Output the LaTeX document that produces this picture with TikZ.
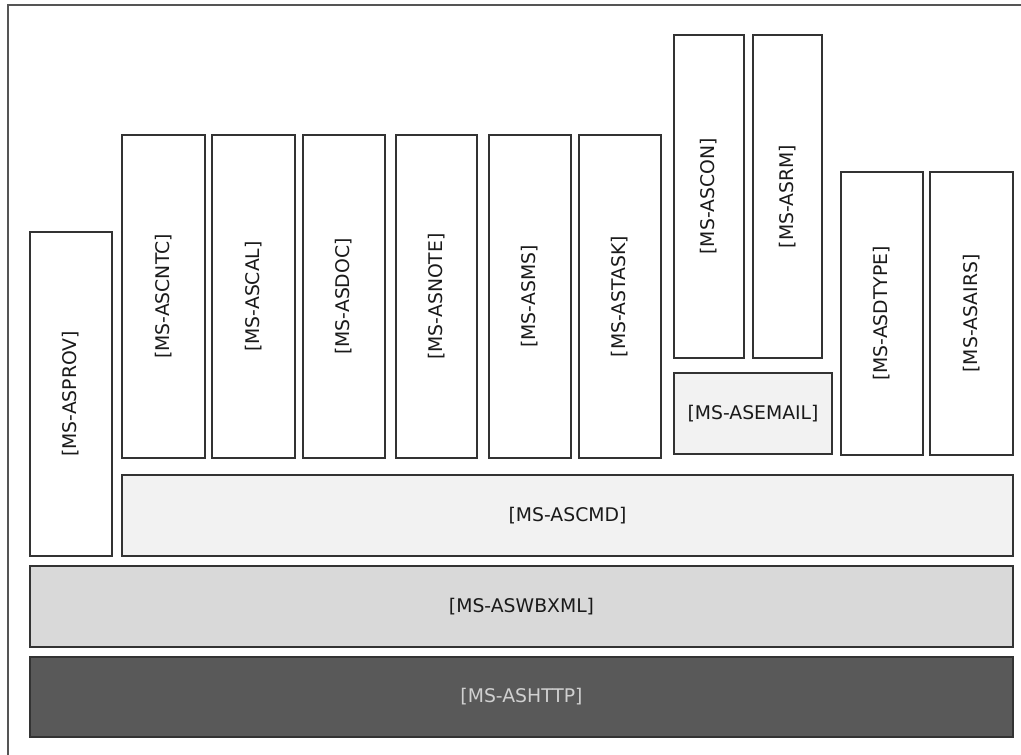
\documentclass[tikz,border=0pt]{standalone}
\usepackage{fontspec}
\setmainfont{DejaVu Sans}
\definecolor{frameC}{HTML}{555555}
\definecolor{edgeC}{HTML}{333333}
\definecolor{lightF}{HTML}{F2F2F2}
\definecolor{midF}{HTML}{D9D9D9}
\definecolor{darkF}{HTML}{595959}
\definecolor{txtC}{HTML}{1A1A1A}
\definecolor{lightT}{HTML}{D0D0D0}
\tikzset{
  base/.style={draw=edgeC, line width=1.6pt, inner sep=0pt, outer sep=0pt,
    font=\fontsize{18.8}{21}\selectfont, text=txtC},
  wbox/.style={base, fill=white},
  lbox/.style={base, fill=lightF},
  mbox/.style={base, fill=midF},
  dbox/.style={base, fill=darkF, text=lightT},
}
% \vbx{name}{left}{top}{right}{bottom}{style}{text}  (vertical text)
\newcommand{\vbx}[7]{\node[#6, rotate=90, minimum width={(#5-#3)*1pt}, minimum height={(#4-#2)*1pt}] (#1) at ({(#2+#4)/2},{(#3+#5)/2}) {#7};}
% \hbx{name}{left}{top}{right}{bottom}{style}{text}  (horizontal text)
\newcommand{\hbx}[7]{\node[#6, minimum width={(#4-#2)*1pt}, minimum height={(#5-#3)*1pt}] (#1) at ({(#2+#4)/2},{(#3+#5)/2}) {#7};}
\begin{document}
\begin{tikzpicture}[x=1pt,y=-1pt]
\useasboundingbox (0,0) rectangle (1021,755);
\clip (0,0) rectangle (1021,755);
\draw[frameC, line width=2pt] (8,5) rectangle (1040,775);
\vbx{asprov}{30}{232}{112}{556}{wbox}{[MS-ASPROV]}
\vbx{ascntc}{122}{135}{205}{458}{wbox}{[MS-ASCNTC]}
\vbx{ascal}{212}{135}{295}{458}{wbox}{[MS-ASCAL]}
\vbx{asdoc}{303}{135}{385}{458}{wbox}{[MS-ASDOC]}
\vbx{asnote}{396}{135}{477}{458}{wbox}{[MS-ASNOTE]}
\vbx{asms}{489}{135}{571}{458}{wbox}{[MS-ASMS]}
\vbx{astask}{579}{135}{661}{458}{wbox}{[MS-ASTASK]}
\vbx{ascon}{674}{35}{744}{358}{wbox}{[MS-ASCON]}
\vbx{asrm}{753}{35}{822}{358}{wbox}{[MS-ASRM]}
\hbx{asemail}{674}{373}{832}{454}{lbox}{[MS-ASEMAIL]}
\vbx{asdtype}{841}{172}{923}{455}{wbox}{[MS-ASDTYPE]}
\vbx{asairs}{930}{172}{1013}{455}{wbox}{[MS-ASAIRS]}
\hbx{ascmd}{122}{475}{1013}{556}{lbox}{[MS-ASCMD]}
\hbx{aswbxml}{30}{566}{1013}{647}{mbox}{[MS-ASWBXML]}
\hbx{ashttp}{30}{657}{1013}{737}{dbox}{[MS-ASHTTP]}
\end{tikzpicture}
\end{document}
